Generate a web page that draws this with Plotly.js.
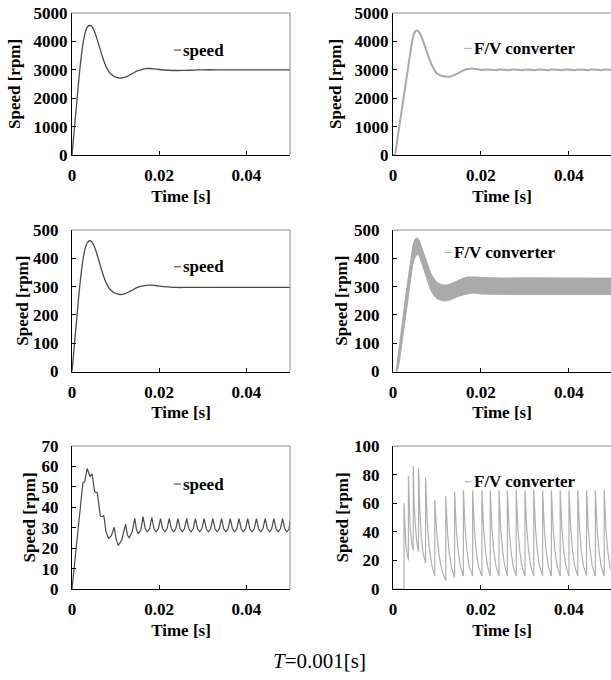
<!DOCTYPE html>
<html><head><meta charset="utf-8">
<script src="https://cdn.plot.ly/plotly-3.0.1.min.js"></script>
<style>html,body{margin:0;padding:0;background:#fff;}#chart{width:611px;height:680px;}</style>
</head><body><div id="chart"></div>
<script>
// ---- tick labels ----
const xTickVals = [0, 0.02, 0.04];
const xTickText = ['0', '0.02', '0.04'];
const yTicksRow1 = [0, 1000, 2000, 3000, 4000, 5000];
const yTicksRow2 = [0, 100, 200, 300, 400, 500];
const yTicksSpeed30 = [0, 10, 20, 30, 40, 50, 60, 70];
const yTicksFV30 = [0, 20, 40, 60, 80, 100];
const legendSpeed = 'speed';
const legendFV = 'F/V converter';
const xTitle = 'Time [s]';
const yTitle = 'Speed [rpm]';
const footer = '<i>T</i>=0.001[s]';

// ---- speed responses (3000 rpm and 300 rpm) ----
const timeSpeed = [0,0.0005,0.001,0.0015,0.002,0.0025,0.003,0.0035,0.004,0.0045,0.005,0.0055,0.006,0.0065,0.007,0.0075,0.008,0.0085,0.009,0.0095,0.010,0.011,0.012,0.013,0.014,0.015,0.016,0.017,0.018,0.019,0.020,0.022,0.024,0.026,0.028,0.030,0.035,0.040,0.045,0.050];
const speed3000 = [0,850,1700,2550,3300,3900,4300,4500,4560,4530,4400,4200,3950,3700,3450,3230,3050,2930,2840,2780,2740,2710,2730,2800,2880,2960,3010,3040,3045,3030,3010,2985,2975,2980,2990,3000,3000,3000,3000,3000];
const speed300 = [0,85,172,258,333,393,434,455,462,459,446,426,400,374,348,326,308,295,286,280,276,272,274,281,289,297,302,304,305,304,302,299,297,297,297,297,297,297,297,297];

// ---- F/V converter at 3000 rpm ----
const timeFV3000 = [0,0.0004,0.001,0.0015,0.002,0.0025,0.003,0.0035,0.004,0.0045,0.005,0.0055,0.006,0.0065,0.007,0.0075,0.008,0.0085,0.009,0.0095,0.010,0.011,0.012,0.013,0.014,0.015,0.016,0.017,0.018,0.0205,0.021,0.0235,0.024,0.0265,0.027,0.0295,0.030,0.0325,0.033,0.0355,0.036,0.0385,0.039,0.0415,0.042,0.0445,0.045,0.0475,0.048,0.050];
const fv3000 = [0,0,570,1080,1600,2110,2630,3150,3650,4120,4340,4380,4310,4150,3950,3720,3500,3290,3110,2970,2870,2790,2760,2765,2820,2900,2980,3030,3045,2990,3012,2988,3012,2988,3012,2988,3012,2988,3012,2988,3012,2988,3012,2988,3012,2988,3012,2988,3012,2995];

// ---- F/V converter at 300 rpm (band envelope) ----
const timeFV300 = [0.0007,0.001,0.0015,0.002,0.0025,0.003,0.0035,0.004,0.0045,0.005,0.0055,0.006,0.0065,0.007,0.0075,0.008,0.0085,0.009,0.0095,0.010,0.011,0.012,0.013,0.014,0.015,0.016,0.017,0.018,0.019,0.020,0.022,0.025,0.030,0.035,0.040,0.045,0.050];
const fv300Upper = [0,40,100,160,220,280,340,395,445,468,473,462,440,415,390,368,350,335,323,315,307,305,309,317,324,330,334,335,334,332,331,330,331,330,331,330,330];
const fv300Lower = [0,0,40,100,160,220,280,335,380,405,414,408,385,360,333,310,290,275,264,257,251,249,253,260,266,271,275,277,276,274,273,272,272,272,272,272,272];

// ---- speed at 30 rpm ----
const timeSpeed30 = [0,0.0025,0.0029,0.0035,0.0041,0.0046,0.0052,0.0058,0.0065,0.0071,0.0073,0.0078,0.0084,0.0090,0.0097,0.0101,0.0106,0.0114,0.0123,0.0127,0.0131,0.0138,0.0144,0.0148,0.0152,0.0158,
  0.0163,0.0168,0.0173,0.0178, 0.0183,0.0188,0.0193,0.0198, 0.0203,0.0208,0.0213,0.0218, 0.0223,0.0228,0.0233,0.0238,
  0.0243,0.0248,0.0253,0.0258, 0.0263,0.0268,0.0273,0.0278, 0.0283,0.0288,0.0293,0.0298, 0.0303,0.0308,0.0313,0.0318,
  0.0323,0.0328,0.0333,0.0338, 0.0343,0.0348,0.0353,0.0358, 0.0363,0.0368,0.0373,0.0378, 0.0383,0.0388,0.0393,0.0398,
  0.0403,0.0408,0.0413,0.0418, 0.0423,0.0428,0.0433,0.0438, 0.0443,0.0448,0.0453,0.0458, 0.0463,0.0468,0.0473,0.0478,
  0.0483,0.0488,0.0493,0.0498, 0.0500];
const speed30 = [0,52,52.5,59,55,56.3,47.6,47.1,35.7,35.4,36,28,24.8,26,30.2,24.5,21.3,24,31.8,26.5,25,28,34.6,29,27,29,
  35.4,29.5,28,29.5, 35,29.5,28,29.5, 34.5,29.5,28,29.5, 34.5,29.5,28,29.5,
  34.5,29.5,28,29.5, 34.5,29.5,28,29.5, 34.5,29.5,28,29.5, 34.5,29.5,28,29.5,
  34.5,29.5,28,29.5, 34.5,29.5,28,29.5, 34.5,29.5,28,29.5, 34.5,29.5,28,29.5,
  34.5,29.5,28,29.5, 34.5,29.5,28,29.5, 34.5,29.5,28,29.5, 34.5,29.5,28,29.5,
  34.5,29.5,28,29.5, 33.5];

// ---- F/V converter at 30 rpm ----
const timeFV30 = [0,0.0025,0.0025,0.0027,0.0029,0.0032,
  0.0035,0.0035,0.0037,0.0039,0.0042, 0.0046,0.0046,0.0048,0.0051,0.0054, 0.0058,0.0058,0.0061,0.0064,0.0068,
  0.0074,0.0074,0.0078,0.0082,0.0088, 0.0095,0.0095,0.0100,0.0105,0.0111, 0.0120,0.0120,0.0124,0.0128,0.0133,
  0.0140,0.0140,0.0144,0.0148,0.0153, 0.0160,0.0160,0.0164,0.0168,0.0173, 0.0181,0.0181,0.0185,0.0189,0.0194,
  0.0202,0.0202,0.0206,0.0210,0.0215, 0.0221,0.0221,0.0225,0.0229,0.0234, 0.0241,0.0241,0.0245,0.0249,0.0254,
  0.0260,0.0260,0.0264,0.0268,0.0273, 0.0280,0.0280,0.0284,0.0288,0.0293, 0.0300,0.0300,0.0304,0.0308,0.0313,
  0.0320,0.0320,0.0324,0.0328,0.0333, 0.0340,0.0340,0.0344,0.0348,0.0353, 0.0360,0.0360,0.0364,0.0368,0.0373,
  0.0380,0.0380,0.0384,0.0388,0.0393, 0.0400,0.0400,0.0404,0.0408,0.0413, 0.0420,0.0420,0.0424,0.0428,0.0433,
  0.0440,0.0440,0.0444,0.0448,0.0453, 0.0460,0.0460,0.0464,0.0468,0.0473, 0.0480,0.0480,0.0484,0.0488,0.0493, 0.0500];
const fv30 = [0,0,60,42,32,25,
  20,79,56,43,33, 27,86,59,44,33, 26,85,55,38,26,
  18,78,47,30,17, 9,62,37,23,13, 6,65,39,25,15,
  8,68,41,27,16, 9,69,42,27,16, 9,69,42,27,16,
  9,69,42,27,16, 9,69,42,27,16, 9,69,42,27,16,
  9,69,42,27,16, 9,69,42,27,16, 9,69,42,27,16,
  9,69,42,27,16, 9,69,42,27,16, 9,69,42,27,16,
  9,69,42,27,16, 9,69,42,27,16, 9,69,42,27,16,
  9,69,42,27,16, 9,69,42,27,16, 9,69,42,27,16, 10];

// ---- styling ----
const SERIF = 'Liberation Serif, Times New Roman, serif';
const boldFont = {family: SERIF, size: 17, color: '#000', weight: 700};
const darkLine = '#4a4a4a';
const greyLine = '#a9a9a9';
const frameGrey = '#8c8c8c';

const traces = [
  {x: timeSpeed, y: speed3000, xaxis: 'x', yaxis: 'y', type: 'scatter', mode: 'lines', line: {color: darkLine, width: 1.3, shape: 'spline'}},
  {x: timeFV3000, y: fv3000, xaxis: 'x2', yaxis: 'y2', type: 'scatter', mode: 'lines', line: {color: greyLine, width: 2, shape: 'spline', smoothing: 0.6}},
  {x: timeSpeed, y: speed300, xaxis: 'x3', yaxis: 'y3', type: 'scatter', mode: 'lines', line: {color: darkLine, width: 1.3, shape: 'spline'}},
  {x: timeFV300, y: fv300Lower, xaxis: 'x4', yaxis: 'y4', type: 'scatter', mode: 'lines', line: {color: '#aaaaaa', width: 1}},
  {x: timeFV300, y: fv300Upper, xaxis: 'x4', yaxis: 'y4', type: 'scatter', mode: 'lines', fill: 'tonexty', fillcolor: '#aaaaaa', line: {color: '#aaaaaa', width: 1}},
  {x: timeSpeed30, y: speed30, xaxis: 'x5', yaxis: 'y5', type: 'scatter', mode: 'lines', line: {color: darkLine, width: 1.2}},
  {x: timeFV30, y: fv30, xaxis: 'x6', yaxis: 'y6', type: 'scatter', mode: 'lines', line: {color: '#b0b0b0', width: 1.2}}
];

const W = 611, H = 680;
const leftDom = [72 / W, 290 / W];
const rightDom = [393 / W, 1];
const rows = [[(H - 155) / H, (H - 13) / H], [(H - 371.5) / H, (H - 230) / H], [(H - 589) / H, (H - 446) / H]];

function xAxis(dom, anchor, range) {
  return {domain: dom, anchor: anchor, range: range, tickvals: xTickVals, ticktext: xTickText,
    ticks: 'inside', ticklen: 4, tickwidth: 1, tickcolor: '#000', showline: true, linecolor: '#000', linewidth: 1,
    showgrid: false, zeroline: false, tickfont: boldFont, ticklabelstandoff: 5,
    title: {text: xTitle, font: boldFont, standoff: 5}, fixedrange: true};
}
function yAxis(dom, anchor, range, ticks, standoff) {
  return {domain: dom, anchor: anchor, range: range, tickvals: ticks,
    ticks: 'inside', ticklen: 4, tickwidth: 1, tickcolor: '#000', showline: true, linecolor: '#000', linewidth: 1,
    showgrid: false, zeroline: false, tickfont: boldFont, ticklabelstandoff: standoff, fixedrange: true};
}

const layout = {
  width: W, height: H, margin: {l: 0, r: 0, t: 0, b: 0},
  paper_bgcolor: '#fff', plot_bgcolor: '#fff', showlegend: false,
  xaxis: xAxis(leftDom, 'y', [0, 0.05]),
  yaxis: yAxis(rows[0], 'x', [0, 5000], yTicksRow1, 0),
  xaxis2: xAxis(rightDom, 'y2', [0, 0.04955]),
  yaxis2: yAxis(rows[0], 'x2', [0, 5000], yTicksRow1, 0),
  xaxis3: xAxis(leftDom, 'y3', [0, 0.05]),
  yaxis3: yAxis(rows[1], 'x3', [0, 500], yTicksRow2, 9),
  xaxis4: xAxis(rightDom, 'y4', [0, 0.04955]),
  yaxis4: yAxis(rows[1], 'x4', [0, 500], yTicksRow2, 9),
  xaxis5: xAxis(leftDom, 'y5', [0, 0.05]),
  yaxis5: yAxis(rows[2], 'x5', [0, 70], yTicksSpeed30, 9),
  xaxis6: xAxis(rightDom, 'y6', [0, 0.04955]),
  yaxis6: yAxis(rows[2], 'x6', [0, 100], yTicksFV30, 9),
  shapes: [],
  annotations: []
};

// frame (top and right borders), legend keys and y-axis titles
const panels = [
  {xa: 'x', ya: 'y', right: true, key: legendSpeed, keyColor: '#333', kx: [0.468, 0.5], tx: 0.5, ky: 0.739, titleX: 14, row: 0},
  {xa: 'x2', ya: 'y2', right: false, key: legendFV, keyColor: greyLine, kx: [0.326, 0.361], tx: 0.362, ky: 0.751, titleX: 335, row: 0},
  {xa: 'x3', ya: 'y3', right: true, key: legendSpeed, keyColor: '#333', kx: [0.468, 0.5], tx: 0.5, ky: 0.74, titleX: 23, row: 1},
  {xa: 'x4', ya: 'y4', right: false, key: legendFV, keyColor: greyLine, kx: [0.234, 0.269], tx: 0.27, ky: 0.84, titleX: 342, row: 1},
  {xa: 'x5', ya: 'y5', right: true, key: legendSpeed, keyColor: '#333', kx: [0.468, 0.5], tx: 0.5, ky: 0.734, titleX: 29, row: 2},
  {xa: 'x6', ya: 'y6', right: false, key: legendFV, keyColor: greyLine, kx: [0.33, 0.361], tx: 0.362, ky: 0.75, titleX: 342, row: 2}
];
panels.forEach(p => {
  const xr = p.xa + ' domain', yr = p.ya + ' domain';
  layout.shapes.push({type: 'line', xref: xr, yref: yr, x0: 0, x1: 1, y0: 1, y1: 1, line: {color: frameGrey, width: 1}});
  if (p.right) layout.shapes.push({type: 'line', xref: xr, yref: yr, x0: 1, x1: 1, y0: 0, y1: 1, line: {color: frameGrey, width: 1}});
  layout.shapes.push({type: 'line', xref: xr, yref: yr, x0: p.kx[0], x1: p.kx[1], y0: p.ky, y1: p.ky, line: {color: p.keyColor, width: 1}});
  layout.annotations.push({xref: xr, yref: yr, x: p.tx, y: p.ky, xanchor: 'left', yanchor: 'middle', showarrow: false,
    text: p.key, font: boldFont});
  const r = rows[p.row];
  layout.annotations.push({xref: 'paper', yref: 'paper', x: p.titleX / W, y: (r[0] + r[1]) / 2, xanchor: 'center', yanchor: 'middle',
    textangle: -90, showarrow: false, text: yTitle, font: boldFont});
});
layout.annotations.push({xref: 'paper', yref: 'paper', x: 319 / W, y: (H - 661) / H, xanchor: 'center', yanchor: 'middle',
  showarrow: false, text: footer, font: {family: SERIF, size: 21, color: '#000'}});

Plotly.newPlot('chart', traces, layout, {displayModeBar: false, staticPlot: true});
</script>
</body></html>
